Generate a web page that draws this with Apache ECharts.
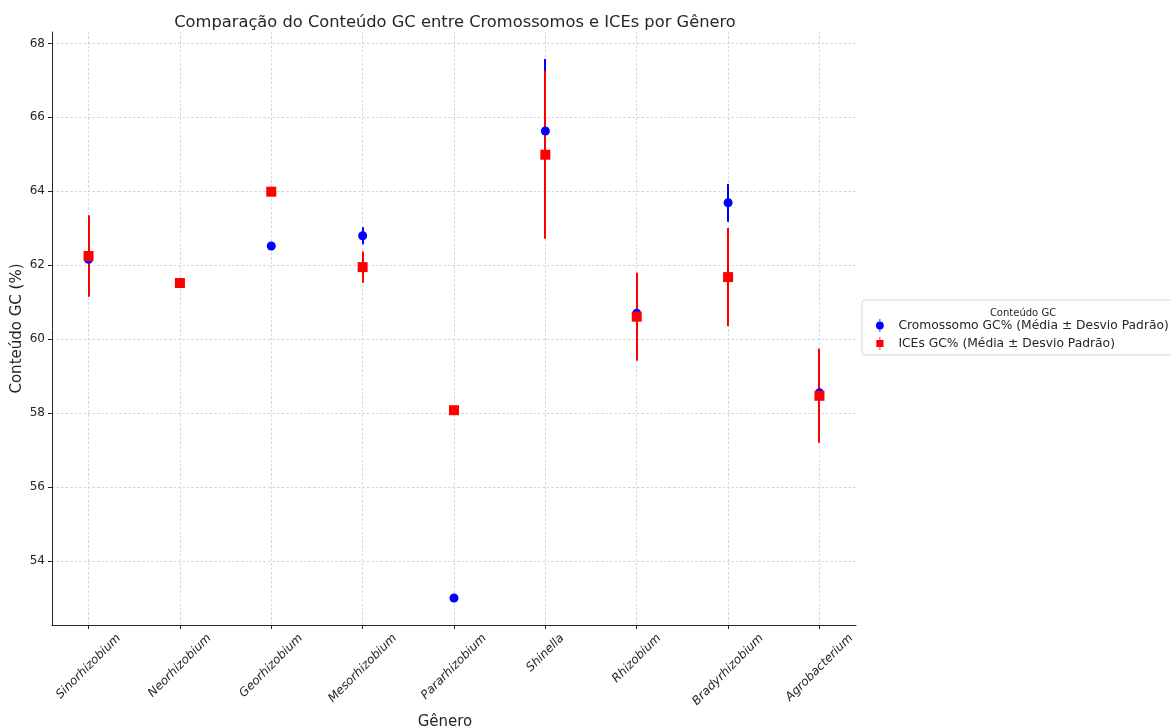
<!DOCTYPE html>
<html>
<head>
<meta charset="utf-8">
<script src="https://cdn.jsdelivr.net/npm/echarts@6/dist/echarts.min.js"></script>
<style>
  html, body { margin: 0; padding: 0; background: #fff; }
  #chart { width: 1171px; height: 728px; }
</style>
</head>
<body>
<div id="chart"></div>
<script>
// Genera on the x axis
const genera = ['Sinorhizobium', 'Neorhizobium', 'Georhizobium', 'Mesorhizobium',
  'Pararhizobium', 'Shinella', 'Rhizobium', 'Bradyrhizobium', 'Agrobacterium'];

// Chromosome GC% mean and standard deviation per genus
const chromMean = [62.16, 61.52, 62.52, 62.80, 53.00, 65.63, 60.70, 63.69, 58.55];
const chromStd  = [0, 0, 0, 0.23, 0, 1.95, 0, 0.51, 0];

// ICE GC% mean and standard deviation per genus
const iceMean = [62.25, 61.52, 63.99, 61.95, 58.08, 64.99, 60.61, 61.68, 58.47];
const iceStd  = [1.10, 0, 0, 0.42, 0, 2.27, 1.19, 1.33, 1.27];

// Y tick values
const yTicks = [54, 56, 58, 60, 62, 64, 66, 68];

const FONT = 'DejaVu Sans';
const BLUE = '#0000ff';
const RED = '#ff0000';
const TEXT = '#262626';
const LABEL_SIZE = 12;

// Axis limits with a 5% margin around the data (bars included)
const allLo = [], allHi = [];
genera.forEach((g, i) => {
  allLo.push(chromMean[i] - chromStd[i], iceMean[i] - iceStd[i]);
  allHi.push(chromMean[i] + chromStd[i], iceMean[i] + iceStd[i]);
});
const dLo = Math.min(...allLo), dHi = Math.max(...allHi);
const yPad = (dHi - dLo) * 0.05;
const xPad = (genera.length - 1) * 0.05;

// Rotated x labels are centred under their tick: each label gets its own
// padding so the rotated box hangs below the anchor point.
const measureCtx = document.createElement('canvas').getContext('2d');
measureCtx.font = 'italic ' + LABEL_SIZE + 'px "' + FONT + '"';
const rich = {};
genera.forEach((g, i) => {
  const w = measureCtx.measureText(g).width;
  const p = (w + LABEL_SIZE) / 2;
  rich['g' + i] = {
    fontFamily: FONT, fontSize: LABEL_SIZE, fontStyle: 'italic', color: TEXT,
    padding: [p, p, 0, 0], lineHeight: LABEL_SIZE
  };
});

function errData(mean, std) {
  return mean.map((m, i) => [i, m, std[i]]);
}

// Vertical error bar from mean - std to mean + std, snapped to whole pixels
function errorBars(color) {
  return function (params, api) {
    const s = api.value(2);
    if (!s) return null;
    const x = api.value(0), m = api.value(1);
    const a = api.coord([x, m + s]);
    const b = api.coord([x, m - s]);
    const px = Math.round(a[0]);
    return {
      type: 'line',
      shape: { x1: px, y1: a[1], x2: px, y2: b[1] },
      style: { stroke: color, lineWidth: 2 }
    };
  };
}

const circleIcon = 'path://M3.6,0 L4.4,0 L4.4,13 L3.6,13 Z M4,2.6 A3.9,3.9 0 1,1 3.99,2.6 Z';
const squareIcon = 'path://M3.6,0 L4.4,0 L4.4,13 L3.6,13 Z M0.4,2.9 L7.6,2.9 L7.6,10.1 L0.4,10.1 Z';

const chart = echarts.init(document.getElementById('chart'), null, { renderer: 'canvas' });

chart.setOption({
  animation: false,
  backgroundColor: '#ffffff',
  title: [
    {
      text: 'Comparação do Conteúdo GC entre Cromossomos e ICEs por Gênero',
      left: 450, top: 10, textAlign: 'center',
      textStyle: { fontFamily: FONT, fontSize: 16.3, fontWeight: 'normal', color: TEXT }
    },
    {
      text: 'Conteúdo GC',
      left: 1018, top: 303, textAlign: 'center',
      textStyle: { fontFamily: FONT, fontSize: 10, fontWeight: 'normal', color: TEXT }
    }
  ],
  legend: {
    orient: 'vertical',
    left: 862, top: 300,
    padding: [19, 12, 5, 14],
    itemGap: 5,
    itemWidth: 9, itemHeight: 13,
    borderColor: '#d6d6d6', borderWidth: 1, borderRadius: 3,
    backgroundColor: '#ffffff',
    textStyle: { fontFamily: FONT, fontSize: 12.3, color: TEXT, lineHeight: 13, padding: [0, 0, 0, 9] },
    data: [
      { name: 'Cromossomo GC% (Média ± Desvio Padrão)', icon: circleIcon, itemStyle: { color: BLUE } },
      { name: 'ICEs GC% (Média ± Desvio Padrão)', icon: squareIcon, itemStyle: { color: RED } }
    ]
  },
  grid: { left: 52, right: 315, top: 32, bottom: 103, containLabel: false, outerBoundsMode: 'none' },
  xAxis: {
    type: 'value',
    min: -xPad, max: genera.length - 1 + xPad,
    name: 'Gênero', nameLocation: 'middle', nameGap: 90, nameMoveOverlap: false,
    nameTextStyle: { fontFamily: FONT, fontSize: 15, color: TEXT, padding: [0, 18, 0, 0] },
    axisLine: { show: true, onZero: false, lineStyle: { color: TEXT, width: 1 } },
    axisTick: { show: true, length: 4, customValues: genera.map((g, i) => i), lineStyle: { color: TEXT } },
    axisLabel: {
      customValues: genera.map((g, i) => i),
      formatter: v => {
        const i = Math.round(v);
        return genera[i] ? '{g' + i + '|' + genera[i] + '}' : '';
      },
      rich: rich,
      rotate: 45, margin: 7, align: 'center', verticalAlign: 'middle',
      fontFamily: FONT, fontSize: LABEL_SIZE, fontStyle: 'italic', color: TEXT
    },
    splitLine: { show: true, lineStyle: { color: '#cccccc', width: 0.8, type: [2.5, 2] } }
  },
  yAxis: {
    type: 'value',
    min: dLo - yPad, max: dHi + yPad,
    name: 'Conteúdo GC (%)', nameLocation: 'middle', nameGap: 27, nameRotate: 90,
    nameMoveOverlap: false,
    nameTextStyle: { fontFamily: FONT, fontSize: 15, color: TEXT },
    axisLine: { show: true, onZero: false, lineStyle: { color: TEXT, width: 1 } },
    axisTick: { show: true, length: 4, customValues: yTicks, lineStyle: { color: TEXT } },
    axisLabel: {
      customValues: yTicks, margin: 7,
      fontFamily: FONT, fontSize: LABEL_SIZE, color: TEXT
    },
    splitLine: { show: true, lineStyle: { color: '#cccccc', width: 0.8, type: [2.5, 2] } }
  },
  series: [
    {
      name: 'Cromossomo GC% (Média ± Desvio Padrão)',
      type: 'custom', z: 1,
      renderItem: errorBars(BLUE),
      itemStyle: { color: BLUE },
      encode: { x: 0, y: 1 },
      data: errData(chromMean, chromStd),
      silent: true
    },
    {
      name: 'ICEs GC% (Média ± Desvio Padrão)',
      type: 'custom', z: 2,
      renderItem: errorBars(RED),
      itemStyle: { color: RED },
      encode: { x: 0, y: 1 },
      data: errData(iceMean, iceStd),
      silent: true
    },
    {
      name: 'Cromossomo GC% (Média ± Desvio Padrão)',
      type: 'scatter', z: 3,
      symbol: 'circle', symbolSize: 9,
      itemStyle: { color: BLUE, opacity: 1 },
      data: chromMean.map((m, i) => [i, m])
    },
    {
      name: 'ICEs GC% (Média ± Desvio Padrão)',
      type: 'scatter', z: 4,
      symbol: 'rect', symbolSize: 10,
      itemStyle: { color: RED, opacity: 1 },
      data: iceMean.map((m, i) => [i, m])
    }
  ]
});
</script>
</body>
</html>
